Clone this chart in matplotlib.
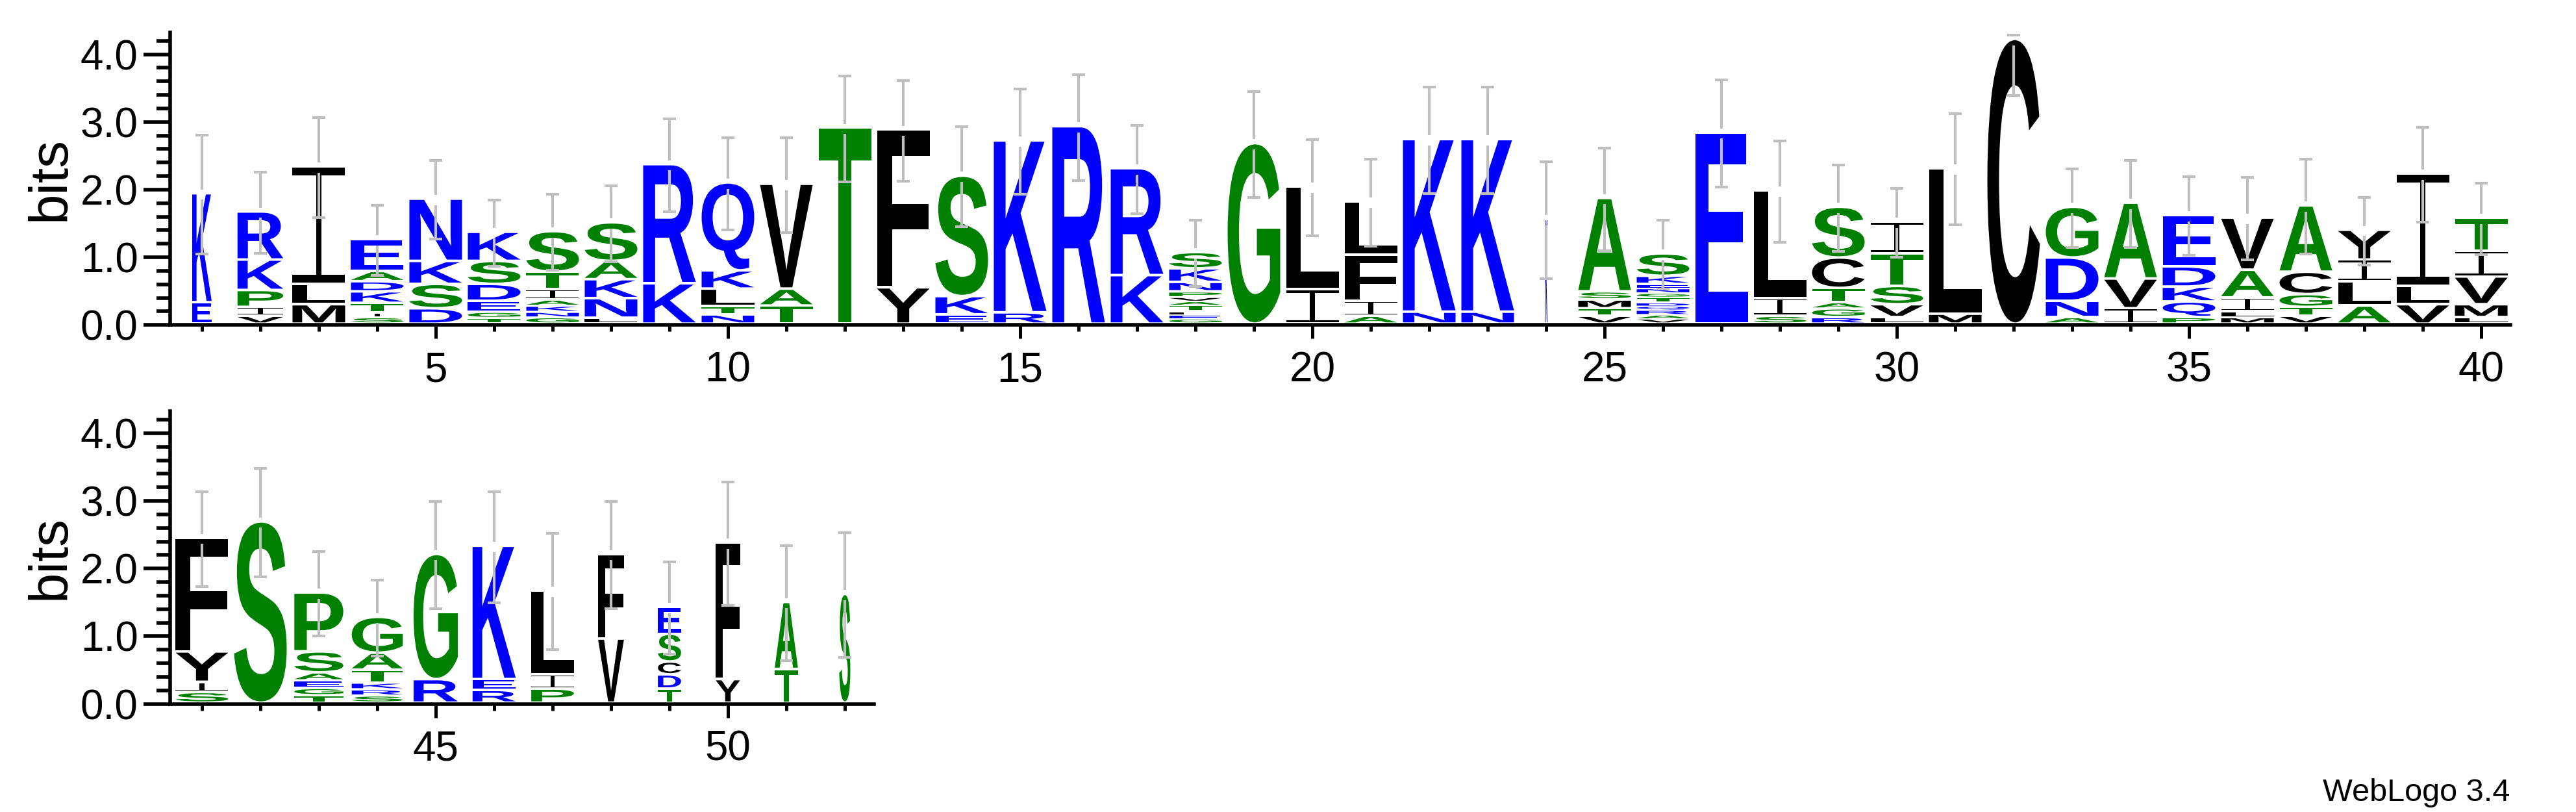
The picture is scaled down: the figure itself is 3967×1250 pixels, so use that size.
import matplotlib
matplotlib.use("Agg")
import matplotlib.pyplot as plt
from matplotlib.textpath import TextPath
from matplotlib.font_manager import FontProperties
from matplotlib.patches import PathPatch
from matplotlib.path import Path
from matplotlib.transforms import Affine2D

# letters of each column, bottom to top, and their heights in bits
letters = [
    "EK", "VIPKR", "MLI", "SITKDAE", "DSKN", "TGEDSK", "GNKAITS", "LNKAS", "KR", "NTLKQ",
    "TAV", "T", "YF", "EKS", "RK", "R", "KR", "GELTAVPNKS", "G", "IL",
    "AIFL", "NK", "NK", "K", "VTMSA", "VARQDTGNEKS", "E", "SIL", "RGATCS", "LVSTI",
    "ML", "C", "ANDG", "IVA", "PQKDE", "MLIAV", "VTGCA", "ALIY", "VLI", "LMVIT",
    "SIYF", "S", "TGEASP", "SRKTAG", "RG", "REK", "PIL", "VF", "TDCSE", "YF",
    "TA", "S",
]
heights = [
    [0.28, 1.61], [0.08, 0.13, 0.25, 0.45, 0.71], [0.25, 0.30, 1.74],
    [0.06, 0.07, 0.14, 0.17, 0.15, 0.15, 0.47], [0.19, 0.36, 0.34, 0.92],
    [0.05, 0.09, 0.16, 0.25, 0.34, 0.43], [0.06, 0.08, 0.09, 0.09, 0.15, 0.26, 0.60],
    [0.05, 0.29, 0.28, 0.27, 0.57], [0.56, 1.76], [0.10, 0.12, 0.26, 0.27, 1.30],
    [0.23, 0.25, 1.55], [2.86], [0.50, 2.33], [0.10, 0.27, 1.78], [0.13, 2.54],
    [2.88], [0.68, 1.58], [0.04, 0.055, 0.055, 0.09, 0.06, 0.06, 0.08, 0.14, 0.20, 0.24],
    [2.63], [0.47, 1.52], [0.08, 0.22, 0.68, 0.79], [0.14, 2.55], [0.14, 2.55],
    [1.51], [0.08, 0.11, 0.13, 0.12, 1.38],
    [0.04, 0.06, 0.07, 0.06, 0.05, 0.08, 0.06, 0.07, 0.06, 0.12, 0.33],
    [2.79], [0.08, 0.26, 1.59], [0.06, 0.13, 0.09, 0.21, 0.45, 0.75],
    [0.06, 0.19, 0.27, 0.48, 0.47], [0.11, 2.15], [4.17], [0.06, 0.24, 0.64, 0.75],
    [0.19, 0.44, 1.12], [0.06, 0.23, 0.22, 0.30, 0.76], [0.06, 0.09, 0.20, 0.41, 0.77],
    [0.08, 0.13, 0.19, 0.33, 0.98], [0.23, 0.36, 0.32, 0.44], [0.25, 0.27, 1.66],
    [0.06, 0.19, 0.41, 0.38, 0.49],
    [0.12, 0.15, 0.45, 1.68], [2.64], [0.07, 0.11, 0.11, 0.12, 0.31, 0.87],
    [0.07, 0.09, 0.10, 0.19, 0.25, 0.53], [0.31, 1.85], [0.15, 0.16, 1.97],
    [0.17, 0.21, 1.24], [0.91, 1.25], [0.17, 0.21, 0.19, 0.41, 0.40], [0.31, 2.02],
    [0.46, 0.99], [1.57],
]
# error of each stack (bits) and fraction of non-gap symbols (stack width)
errors = [0.88, 0.60, 0.74, 0.52, 0.58, 0.49, 0.56, 0.56, 0.69, 0.68,
          0.70, 0.78, 0.74, 0.74, 0.78, 0.78, 0.65, 0.49, 0.78, 0.71,
          0.64, 0.79, 0.79, 0.86, 0.76, 0.51, 0.79, 0.75, 0.64, 0.51,
          0.82, 0.82, 0.58, 0.64, 0.58, 0.61, 0.70, 0.50, 0.70, 0.53,
          0.70, 0.80, 0.62, 0.56, 0.79, 0.82, 0.86, 0.79, 0.68, 0.91,
          0.85, 0.92]
occupancy = [0.37, 0.87] + [1.0] * 21 + [0.05] + [1.0] * 17 + \
            [1.0, 0.93, 0.97, 0.84, 0.82, 0.81, 0.49, 0.44, 0.46, 0.44, 0.21, 0.12]

colors = {}
for c in "RKDENQ":
    colors[c] = "#0000ff"
for c in "SGHTAP":
    colors[c] = "#008000"
for c in "YVMCLFIW":
    colors[c] = "#000000"

letter_font = FontProperties(family="Liberation Sans", weight="bold")
ymax = 4.3219
base = 0.038


def rects(boxes):
    verts, codes = [], []
    for x0, y0, x1, y1 in boxes:
        verts += [(x0, y0), (x1, y0), (x1, y1), (x0, y1), (x0, y0)]
        codes += [Path.MOVETO, Path.LINETO, Path.LINETO, Path.LINETO, Path.CLOSEPOLY]
    return Path(verts, codes)


# weblogo's I: thin stem with full-width bars
glyph_i = rects([(0, 0, 1, 0.07), (0.45, 0.07, 0.55, 0.93), (0, 0.93, 1, 1)])


def draw_letter(ax, ch, x, y, w, h):
    if ch == "I":
        p = glyph_i
    else:
        p = TextPath((0, 0), ch, size=1, prop=letter_font)
    bb = p.get_extents()
    tr = Affine2D().translate(-bb.x0, -bb.y0).scale(w / bb.width, h / bb.height).translate(x - w / 2, y)
    ax.add_patch(PathPatch(tr.transform_path(p), facecolor=colors[ch], edgecolor="none", lw=0, zorder=2))


def draw_row(ax, first, last):
    for pos in range(first, last + 1):
        i = pos - 1
        w = 0.9 * occupancy[i]
        y = base
        for k, (ch, h) in enumerate(zip(letters[i], heights[i])):
            pad = 0 if k == 0 else min(0.038, 0.35 * h)
            draw_letter(ax, ch, pos, y + pad, w, h - pad)
            y += h
        top = y
        e = errors[i]
        g = 0.075
        hi = min(top + e, 4.285)
        lo = top - e
        kw = dict(color="#bfbfbf", lw=3, solid_capstyle="butt", zorder=3)
        ax.plot([pos, pos], [top + g, hi], **kw)
        ax.plot([pos, pos], [lo, top - g], **kw)
        ax.plot([pos - 0.11, pos + 0.11], [hi, hi], **kw)
        ax.plot([pos - 0.11, pos + 0.11], [lo, lo], **kw)

    ax.set_xlim(first - 0.5, last + 0.5)
    ax.set_ylim(0, ymax)
    for s in ["top", "right"]:
        ax.spines[s].set_visible(False)
    ax.spines["left"].set_position(("outward", 3))
    ax.spines["left"].set_linewidth(4)
    ax.spines["bottom"].set_linewidth(4)
    ax.set_xticks([p for p in range(first, last + 1) if p % 5 == 0])
    ax.set_xticks(range(first, last + 1), minor=True)
    ax.set_yticks([0, 1, 2, 3, 4])
    ax.set_yticks([k * 0.2 for k in range(22)], minor=True)
    ax.set_yticklabels(["0.0", "1.0", "2.0", "3.0", "4.0"])
    ax.tick_params(axis="y", which="major", length=29.5, width=4, labelsize=46, pad=6)
    ax.tick_params(axis="y", which="minor", length=15, width=4)
    ax.tick_params(axis="x", which="major", length=15, width=3.6, labelsize=46, pad=14)
    ax.tick_params(axis="x", which="minor", length=7, width=3.6)
    for lab in ax.get_xticklabels() + ax.get_yticklabels():
        lab.set_family("Liberation Sans")


fig = plt.figure(figsize=(39.67, 12.5), dpi=100)
ax1 = fig.add_axes([0.06705, 0.5998, 0.9075, 0.3602])
ax2 = fig.add_axes([0.06705, 0.1331, 0.27224, 0.3602])
draw_row(ax1, 1, 40)
draw_row(ax2, 41, 52)

fig.text(78 / 3967, 0.78, "bits", rotation=90, ha="center", va="center",
         fontsize=60, family="Liberation Sans")
fig.text(78 / 3967, 0.3132, "bits", rotation=90, ha="center", va="center",
         fontsize=60, family="Liberation Sans")
fig.text(3865 / 3967, 1 - 1233 / 1250, "WebLogo 3.4", ha="right", va="baseline",
         fontsize=35, family="Liberation Sans")

fig.savefig("out.png", dpi=100)
